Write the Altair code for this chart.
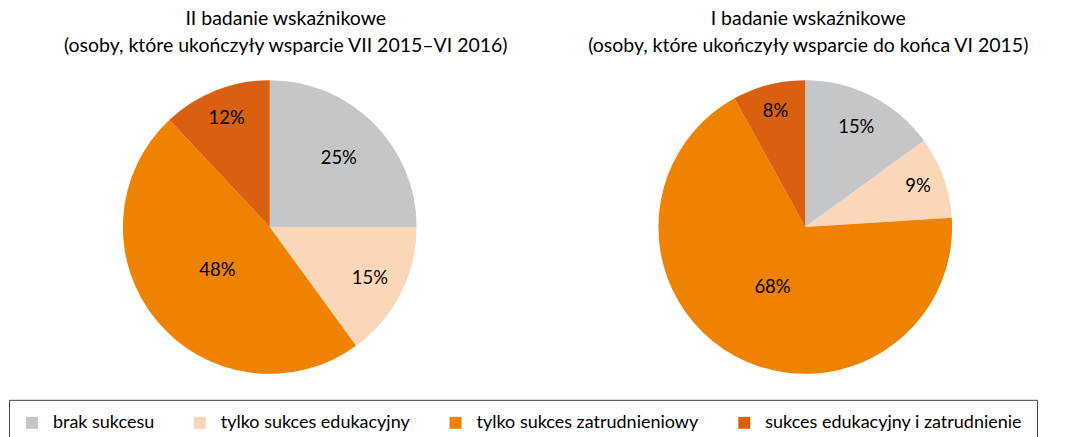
import altair as alt
import pandas as pd

categories = ["brak sukcesu", "tylko sukces edukacyjny", "tylko sukces zatrudnieniowy", "sukces edukacyjny i zatrudnienie"]
colors = ["#C5C6C8", "#FAD7B8", "#EF8200", "#D9600F"]
values_ii = [25, 15, 48, 12]
values_i = [15, 9, 68, 8]
title_ii = ["II badanie wskaźnikowe", "(osoby, które ukończyły wsparcie VII 2015–VI 2016)"]
title_i = ["I badanie wskaźnikowe", "(osoby, które ukończyły wsparcie do końca VI 2015)"]

FONT = "Lato"

legend = alt.Legend(
    orient="none", legendX=-7, legendY=326, direction="horizontal", columns=4,
    title=None, symbolType="square", symbolSize=144, symbolStrokeWidth=0,
    labelFont=FONT, labelFontSize=18, labelColor="black", labelOffset=12,
    strokeColor="#404040", padding=14, columnPadding=36,
    labelLimit=400,
)


def pie(values, title, dx):
    df = pd.DataFrame({
        "kategoria": categories,
        "wartosc": values,
        "kolejnosc": list(range(len(categories))),
        "etykieta": [f"{v}%" for v in values],
    })
    base = alt.Chart(df).encode(
        theta=alt.Theta("wartosc:Q", stack=True),
        order=alt.Order("kolejnosc:Q"),
    )
    arcs = base.mark_arc(outerRadius=147).encode(
        color=alt.Color("kategoria:N", scale=alt.Scale(domain=categories, range=colors), legend=legend,
                        sort=categories),
    )
    labels = base.mark_text(font=FONT, fontSize=18.5, color="black").encode(
        radius=alt.Radius("wartosc:Q", scale=alt.Scale(type="linear", domain=[10, 45], range=[120, 68], clamp=True, zero=False)),
        text="etykieta:N",
    )
    return alt.layer(arcs, labels).properties(
        width=508, height=306,
        title=alt.TitleParams(title, font=FONT, fontSize=19.5, fontWeight="normal", color="black",
                              anchor="middle", lineHeight=27, offset=18, dx=dx),
    )


chart = alt.hconcat(pie(values_ii, title_ii, 16), pie(values_i, title_i, 3), spacing=28).properties(
    padding=0
).configure_view(stroke=None)

chart.save("out.html", embed_options={"renderer": "svg", "actions": False})
